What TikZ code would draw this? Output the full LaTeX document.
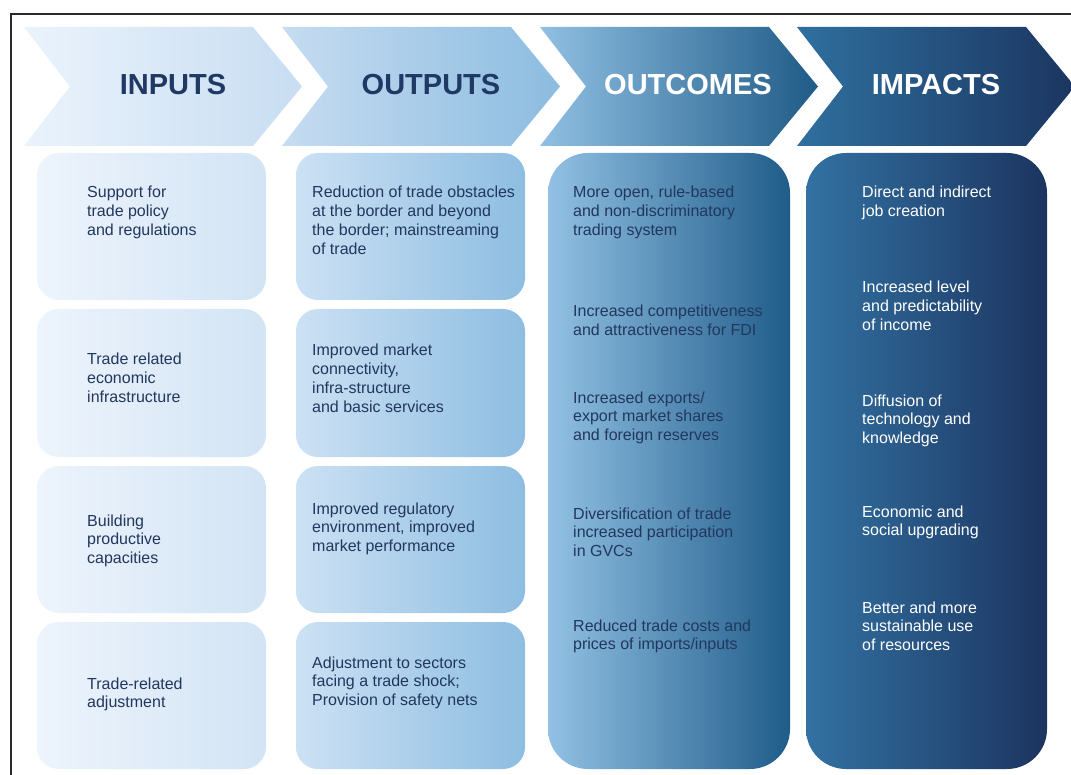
\documentclass[tikz,border=0pt]{standalone}
\usepackage{fontspec}
\setmainfont{Liberation Sans}
\definecolor{chA}{HTML}{EAF3FC}
\definecolor{chAr}{HTML}{C8DDF2}
\definecolor{chB}{HTML}{C6DCF1}
\definecolor{chBr}{HTML}{8CBCE0}
\definecolor{chC}{HTML}{90C0E3}
\definecolor{chCr}{HTML}{1F5B87}
\definecolor{chD}{HTML}{2F709F}
\definecolor{chDr}{HTML}{1B3560}
\definecolor{bxA}{HTML}{EDF4FC}
\definecolor{bxAr}{HTML}{D2E4F5}
\definecolor{bxB}{HTML}{CCE1F4}
\definecolor{bxBr}{HTML}{8DBDE1}
\definecolor{bxC}{HTML}{92C1E4}
\definecolor{bxCr}{HTML}{1F5C89}
\definecolor{bxD}{HTML}{3272A2}
\definecolor{bxDr}{HTML}{1C3460}
\definecolor{navy}{HTML}{1F3864}
\definecolor{bodytxt}{HTML}{22375E}
\definecolor{frameclr}{HTML}{2A2A2A}
\begin{document}
\begin{tikzpicture}[x=1pt,y=-1pt,
  head/.style={anchor=base, inner sep=0pt, font=\fontsize{29}{34}\selectfont\bfseries},
  body/.style={anchor=base west, inner sep=0pt, align=left, text=bodytxt,
    font=\fontsize{16}{18.75}\selectfont},
  bodyw/.style={body, text=white},
  smallbox/.style={rounded corners=22pt},
  bigbox/.style={rounded corners=40pt}]
\useasboundingbox (0,0) rectangle (1071,775);
\clip (0,0) rectangle (1071,775);
% frame
\draw[frameclr, line width=1.3pt] (11,776) -- (11,14) -- (1072,14);
% chevrons
\foreach \x/\cl/\cr in {24/chA/chAr, 282/chB/chBr, 540/chC/chCr, 797/chD/chDr}{
  \shade[left color=\cl, right color=\cr]
    (\x,27) -- (\x+229,27) -- (\x+278,86.5) -- (\x+229,146) -- (\x,146) -- (\x+46,86.5) -- cycle;
}
\node[head, text=navy] (hin) at (173,95) {INPUTS};
\node[head, text=navy] (hout) at (431,95) {OUTPUTS};
\node[head, text=white] (hoc) at (688,95) {OUTCOMES};
\node[head, text=white] (him) at (936,95) {IMPACTS};
% column boxes
\foreach \ya/\yb in {153/300, 309/457, 466/613, 622/769}{
  \shade[smallbox, left color=bxA, right color=bxAr] (37,\ya) rectangle (266,\yb);
  \shade[smallbox, left color=bxB, right color=bxBr] (296,\ya) rectangle (525,\yb);
}
\shade[bigbox, left color=bxC, right color=bxCr] (548,153) rectangle (790,769);
\shade[bigbox, left color=bxD, right color=bxDr] (806,153) rectangle (1047,769);
% (node base anchor = baseline of the last line)
% inputs
\node[body] (i1) at (87,235.5) {Support for\\trade policy\\and regulations};
\node[body] (i2) at (87,402.5) {Trade related\\economic\\infrastructure};
\node[body] (i3) at (87,563.5) {Building\\productive\\capacities};
\node[body] (i4) at (87,707.75) {Trade-related\\adjustment};
% outputs
\node[body] (o1) at (312,254.25) {Reduction of trade obstacles\\at the border and beyond\\the border; mainstreaming\\of trade};
\node[body] (o2) at (312,412.25) {Improved market\\connectivity,\\infra-structure\\and basic services};
\node[body] (o3) at (312,551.5) {Improved regulatory\\environment, improved\\market performance};
\node[body] (o4) at (312,705.5) {Adjustment to sectors\\facing a trade shock;\\Provision of safety nets};
% outcomes
\node[body] (c1) at (573,235.5) {More open, rule-based\\and non-discriminatory\\trading system};
\node[body] (c2) at (573,335.75) {Increased competitiveness\\and attractiveness for FDI};
\node[body] (c3) at (573,440.5) {Increased exports/\\export market shares\\and foreign reserves};
\node[body] (c4) at (573,556.5) {Diversification of trade\\increased participation\\in GVCs};
\node[body] (c5) at (573,649.75) {Reduced trade costs and\\prices of imports/inputs};
% impacts
\node[bodyw] (m1) at (862,216.75) {Direct and indirect\\job creation};
\node[bodyw] (m2) at (862,330.5) {Increased level\\and predictability\\of income};
\node[bodyw] (m3) at (862,443.5) {Diffusion of\\technology and\\knowledge};
\node[bodyw] (m4) at (862,535.75) {Economic and\\social upgrading};
\node[bodyw] (m5) at (862,650.5) {Better and more\\sustainable use\\of resources};
\end{tikzpicture}
\end{document}
